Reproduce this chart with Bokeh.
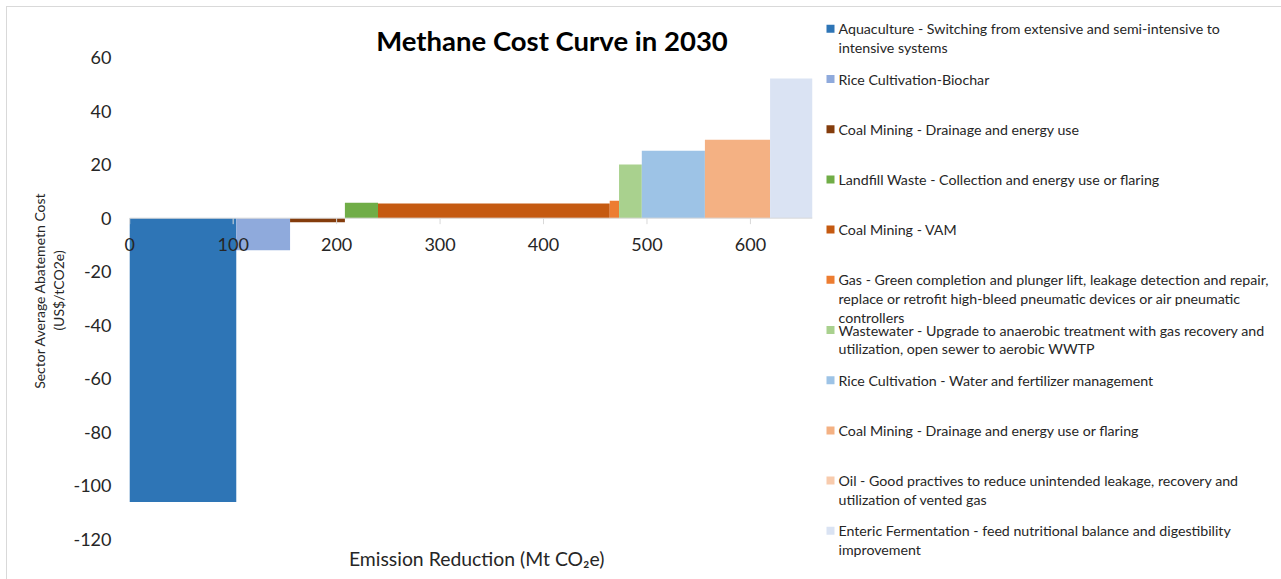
import numpy as np
from bokeh.plotting import figure
from bokeh.layouts import row
from bokeh.models import Range1d, FixedTicker, ColumnDataSource, CustomJSTickFormatter
from bokeh.core.properties import value
from bokeh.embed import file_html
from bokeh.resources import INLINE

# ---------------- data ----------------
legend_lines = [
    ["Aquaculture - Switching from extensive and semi-intensive to", "intensive systems"],
    ["Rice Cultivation-Biochar"],
    ["Coal Mining - Drainage and energy use"],
    ["Landfill Waste - Collection and energy use or flaring"],
    ["Coal Mining - VAM"],
    ["Gas - Green completion and plunger lift, leakage detection and repair,",
     "replace or retrofit high-bleed pneumatic devices or air pneumatic", "controllers"],
    ["Wastewater - Upgrade to anaerobic treatment with gas recovery and",
     "utilization, open sewer to aerobic WWTP"],
    ["Rice Cultivation - Water and fertilizer management"],
    ["Coal Mining - Drainage and energy use or flaring"],
    ["Oil - Good practives to reduce unintended leakage, recovery and", "utilization of vented gas"],
    ["Enteric Fermentation - feed nutritional balance and digestibility", "improvement"],
]
categories = [" ".join(l) for l in legend_lines]
widths = [103, 52, 53, 32, 224, 9, 22, 61, 63, 0, 41]          # Mt CO2e
costs = [-106, -12, -1.5, 5.8, 5.5, 6.5, 20, 25.2, 29.3, 35, 52.2]  # US$/tCO2e
colors = ["#2E75B6", "#8FAADC", "#843C0C", "#70AD47", "#C55A11", "#ED7D31",
          "#A9D18E", "#9DC3E6", "#F4B183", "#F8CBAD", "#DAE3F3"]
x_ticks = [0, 100, 200, 300, 400, 500, 600]
y_ticks = [-120, -100, -80, -60, -40, -20, 0, 20, 40, 60]
title = "Methane Cost Curve in 2030"
x_title = "Emission Reduction (Mt CO\u2082e)"
y_title = ["Sector Average Abatemetn Cost", "(US$/tCO2e)"]

FONT = value("Lato")
TXT = "#262626"
H = 579

w = np.array(widths, dtype=float)
c = np.array(costs, dtype=float)
right = np.cumsum(w)
left = right - w
src = ColumnDataSource(dict(left=left, right=right,
                            bottom=np.minimum(c, 0), top=np.maximum(c, 0),
                            color=colors, name=categories))

# layout: plot area pixel geometry
PX_TOP, PX_BOT = 57, 539          # rows of y_ticks[-1] and y_ticks[0]
k = (y_ticks[-1] - y_ticks[0]) / (PX_BOT - PX_TOP)
y_lo = y_ticks[0] - (H - PX_BOT) * k
y_hi = y_ticks[-1] + PX_TOP * k

LEFT_W = 70
MAIN_W = 745
BORDER_L, BORDER_R = 42, 3
FRAME_W = MAIN_W - BORDER_L - BORDER_R
PX_PER_UNIT = 1.036
x_hi = float(right[-1])
x_lo = x_hi - FRAME_W / PX_PER_UNIT

# ---------------- y-axis title panel ----------------
pl = figure(width=LEFT_W, height=H, x_range=Range1d(0, LEFT_W), y_range=Range1d(H, 0),
            output_backend="svg", toolbar_location=None, x_axis_type=None, y_axis_type=None,
            min_border=0, outline_line_color=None)
pl.grid.visible = False
pl.text(x=[39, 58], y=[290, 290], text=y_title,
        angle=np.pi / 2, text_align="center", text_baseline="middle",
        text_font=FONT, text_font_size="14px", text_color=TXT)

# ---------------- main chart ----------------
p = figure(width=MAIN_W, height=H, x_range=Range1d(x_lo, x_hi), y_range=Range1d(y_lo, y_hi),
           output_backend="svg", toolbar_location=None, x_axis_type=None,
           min_border_left=BORDER_L, min_border_right=BORDER_R, min_border_top=0, min_border_bottom=0,
           outline_line_color=None)
p.grid.visible = False

p.yaxis.ticker = FixedTicker(ticks=y_ticks)
p.yaxis.formatter = CustomJSTickFormatter(code="return String(tick);")
p.yaxis.axis_line_color = None
p.yaxis.major_tick_line_color = None
p.yaxis.minor_tick_line_color = None
p.yaxis.major_tick_out = 0
p.yaxis.major_tick_in = 0
p.yaxis.major_label_standoff = 2
p.yaxis.major_label_text_font = "Lato"
p.yaxis.major_label_text_font_size = "18px"
p.yaxis.major_label_text_color = TXT

p.quad(left="left", right="right", bottom="bottom", top="top", fill_color="color",
       line_color=None, source=src)

p.segment(x0=[0], y0=[0], x1=[x_hi], y1=[0], line_color="#d9d9d9", line_width=1)
p.ray(x=x_ticks, y=[0] * len(x_ticks), length=6, length_units="screen", angle=-np.pi / 2,
      line_color="#d9d9d9", line_width=1)
p.text(x=x_ticks, y=[0] * len(x_ticks), text=[str(t) for t in x_ticks], y_offset=26,
       text_align="center", text_baseline="middle", text_font=FONT, text_font_size="18px",
       text_color=TXT)

# chart title and x-axis title
p.text(x=[0], y=[y_ticks[-1]], text=[title], x_offset=246.5, y_offset=-17,
       text_align="left", text_baseline="middle", text_font=FONT, text_font_size="27.5px",
       text_font_style="bold", text_color="#000000")
p.text(x=[0], y=[y_ticks[0]], text=[x_title], x_offset=347, y_offset=19,
       text_align="center", text_baseline="middle", text_font=FONT, text_font_size="19.4px",
       text_color=TXT)

# ---------------- legend panel ----------------
LEG_W = 1281 - LEFT_W - MAIN_W
pr = figure(width=LEG_W, height=H, x_range=Range1d(0, LEG_W), y_range=Range1d(H, 0),
            output_backend="svg", toolbar_location=None, x_axis_type=None, y_axis_type=None,
            min_border=0, outline_line_color=None)
pr.grid.visible = False
entry_y = [28.3 + 50.2 * i for i in range(len(categories))]
pr.scatter(x=[15] * len(categories), y=entry_y, marker="square", size=8, color=colors, line_color=None)
tx, ty, tt = [], [], []
for i, lines in enumerate(legend_lines):
    for j, line in enumerate(lines):
        tx.append(23)
        ty.append(entry_y[i] + 18.7 * j)
        tt.append(line)
pr.text(x=tx, y=ty, text=tt, text_align="left", text_baseline="middle",
        text_font=FONT, text_font_size="14.2px", text_color=TXT)

border_css = (":host::before{content:'';position:absolute;left:6px;top:6px;right:0;bottom:0;"
              "border-left:1px solid #d9d9d9;border-top:1px solid #d9d9d9;"
              "pointer-events:none;z-index:10;}")
layout = row(pl, p, pr, stylesheets=[border_css])
open("out.html", "w").write(file_html(layout, INLINE))
